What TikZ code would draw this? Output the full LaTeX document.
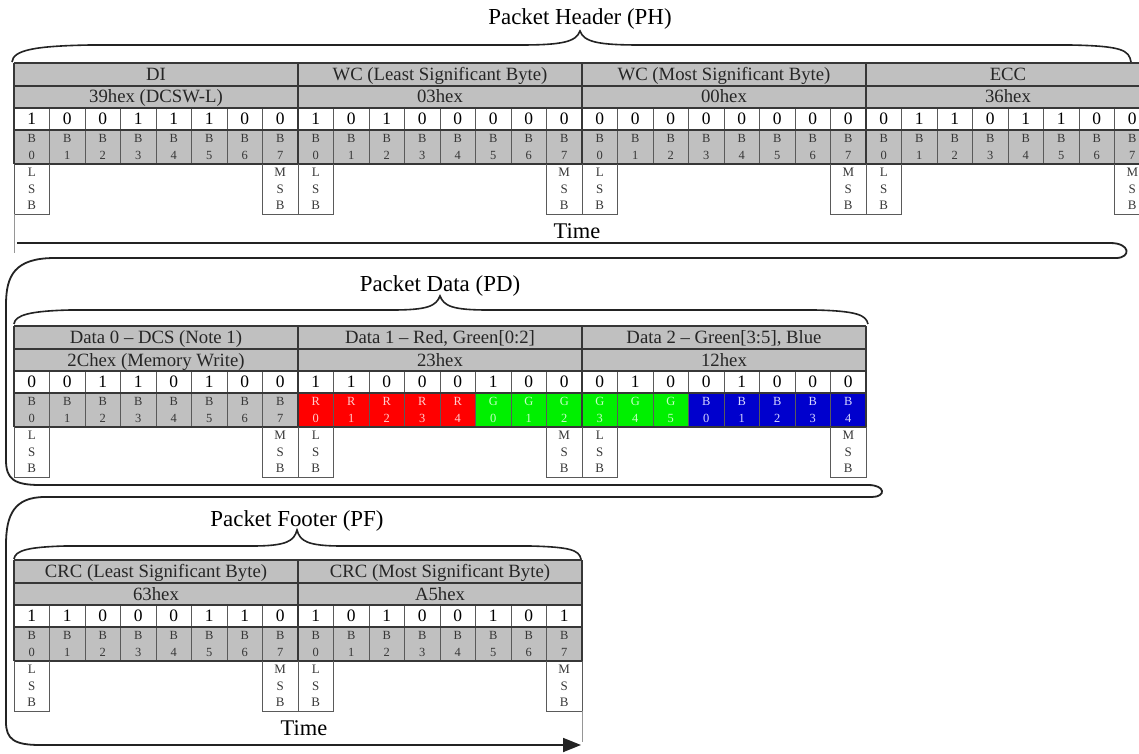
\documentclass[tikz,border=0pt]{standalone}
\usepackage{fontspec}
\setmainfont{Liberation Serif}
\usetikzlibrary{arrows.meta}
\definecolor{cellgray}{RGB}{192,192,192}
\definecolor{gridc}{RGB}{90,90,90}
\definecolor{rowc}{RGB}{55,55,55}
\definecolor{cred}{RGB}{255,0,0}
\definecolor{cgreen}{RGB}{0,240,0}
\definecolor{cblue}{RGB}{0,0,205}
\definecolor{flowc}{RGB}{35,35,35}
\definecolor{labc}{RGB}{55,55,55}
\definecolor{tr}{RGB}{255,205,205}
\definecolor{tg}{RGB}{200,255,200}
\definecolor{tb}{RGB}{215,215,255}
\definecolor{sidec}{RGB}{150,150,150}
\tikzset{
  grid line/.style={draw=gridc, line width=0.8bp},
  row line/.style={draw=rowc, line width=1.2bp},
  side line/.style={draw=sidec, line width=0.8bp},
  flowline/.style={draw=flowc, line width=1.8bp},
  bracel/.style={draw=flowc, line width=1.6bp},
  titletxt/.style={font=\fontsize{23}{26}\selectfont, inner sep=0pt, anchor=base},
  timetxt/.style={font=\fontsize{22.5}{24}\selectfont, inner sep=0pt, anchor=base},
  fieldtxt/.style={font=\fontsize{18.8}{20}\selectfont, inner sep=0pt, anchor=base, text=black!85},
  bittxt/.style={font=\fontsize{17.5}{19}\selectfont, inner sep=0pt},
  blbl/.style={font=\fontsize{12.5}{17}\selectfont, inner sep=0pt, align=center},
  sblbl/.style={font=\fontsize{13}{16.5}\selectfont, inner sep=0pt, align=center, text=labc},
}
\newcommand{\pktfill}[2]{%
  \fill[cellgray] (14,#1) rectangle ({14+#2*284},{#1+45});
  \fill[cellgray] (14,{#1+67}) rectangle ({14+#2*284},{#1+101});
}
\newcommand{\pktlines}[2]{%
  \pgfmathtruncatemacro{\pktnc}{8*#2-1}%
  \pgfmathtruncatemacro{\pktnb}{#2-1}%
  \foreach \j in {1,...,\pktnc}{\draw[grid line] ({14+\j*35.5},{#1+45}) -- ({14+\j*35.5},{#1+101});}
  \foreach \yy in {0,23,45,67,101}{\draw[row line] (14,{#1+\yy}) -- ({14+#2*284},{#1+\yy});}
  \foreach \k in {0,...,#2}{\draw[row line] ({14+\k*284},#1) -- ({14+\k*284},{#1+101});}
  \foreach \k in {0,...,\pktnb}{%
    \draw[grid line] ({14+\k*284},{#1+101}) -- ({14+\k*284},{#1+151}) -- ({49.5+\k*284},{#1+151}) -- ({49.5+\k*284},{#1+101});
    \draw[grid line] ({262.5+\k*284},{#1+101}) -- ({262.5+\k*284},{#1+151}) -- ({298+\k*284},{#1+151}) -- ({298+\k*284},{#1+101});
  }%
}
\newcommand{\pktsig}[3]{% #1 prefix, #2 top, #3 bytes
  \pgfmathtruncatemacro{\pktnb}{#3-1}%
  \foreach \k in {0,...,\pktnb}{%
    \node[sblbl] (#1-lsb-\k) at ({31.75+\k*284},{#2+126}) {L\\S\\B};
    \node[sblbl] (#1-msb-\k) at ({280.25+\k*284},{#2+126}) {M\\S\\B};
  }%
}
\begin{document}
\begin{tikzpicture}[x=1bp,y=-1bp]
\useasboundingbox (0,0) rectangle (1139,754);
\fill[white] (0,0) rectangle (1139,754);

% ================= Packet Header =================
\node[titletxt] (ph-title) at (580,25) {Packet Header (PH)};
\draw[bracel] (12,62) .. controls (13,50) and (35,46) .. (90,45) -- (520,45)
  .. controls (562,45) and (576,42) .. (580,31)
  .. controls (584,42) and (598,45) .. (640,45) -- (1070,45)
  .. controls (1122,46) and (1129,50) .. (1131,62);

\pktfill{63}{4}
\pktlines{63}{4}
\node[fieldtxt] (h-f0) at (156,80.5) {DI};
\node[fieldtxt] (h-f1) at (440,80.5) {WC (Least Significant Byte)};
\node[fieldtxt] (h-f2) at (724,80.5) {WC (Most Significant Byte)};
\node[fieldtxt] (h-f3) at (1008,80.5) {ECC};
\node[fieldtxt] (h-x0) at (156,103) {39hex (DCSW-L)};
\node[fieldtxt] (h-x1) at (440,103) {03hex};
\node[fieldtxt] (h-x2) at (724,103) {00hex};
\node[fieldtxt] (h-x3) at (1008,103) {36hex};
\foreach \v [count=\j from 0] in {1,0,0,1,1,1,0,0, 1,0,1,0,0,0,0,0, 0,0,0,0,0,0,0,0, 0,1,1,0,1,1,0,0}
  \node[bittxt] (h-bit-\j) at ({14+(\j+0.5)*35.5},119) {\v};
\foreach \j in {0,...,31}{
  \pgfmathtruncatemacro{\dd}{mod(\j,8)}
  \node[blbl, text=labc] (h-lb-\j) at ({14+(\j+0.5)*35.5},147) {B\\\dd};
}
\pktsig{h}{63}{4}
\node[timetxt] (h-time) at (577,238) {Time};
\draw[side line] (14,214) -- (14,253);

% ================= Packet Data =================
\node[titletxt] (pd-title) at (440,291) {Packet Data (PD)};
\draw[bracel] (14,324) .. controls (15,315) and (30,311) .. (70,310) -- (392,310)
  .. controls (428,310) and (436,306) .. (440,296)
  .. controls (444,306) and (452,310) .. (488,310) -- (815,310)
  .. controls (857,311) and (866,315) .. (868,324);

\pktfill{326}{3}
\fill[cred]   ({14+8*35.5},393) rectangle ({14+13*35.5},427);
\fill[cgreen] ({14+13*35.5},393) rectangle ({14+19*35.5},427);
\fill[cblue]  ({14+19*35.5},393) rectangle ({14+24*35.5},427);
\pktlines{326}{3}
\node[fieldtxt] (d-f0) at (156,343.5) {Data 0 – DCS (Note 1)};
\node[fieldtxt] (d-f1) at (440,343.5) {Data 1 – Red, Green[0:2]};
\node[fieldtxt] (d-f2) at (724,343.5) {Data 2 – Green[3:5], Blue};
\node[fieldtxt] (d-x0) at (156,366) {2Chex (Memory Write)};
\node[fieldtxt] (d-x1) at (440,366) {23hex};
\node[fieldtxt] (d-x2) at (724,366) {12hex};
\foreach \v [count=\j from 0] in {0,0,1,1,0,1,0,0, 1,1,0,0,0,1,0,0, 0,1,0,0,1,0,0,0}
  \node[bittxt] (d-bit-\j) at ({14+(\j+0.5)*35.5},382) {\v};
\foreach \l/\d/\c [count=\j from 0] in {B/0/labc,B/1/labc,B/2/labc,B/3/labc,B/4/labc,B/5/labc,B/6/labc,B/7/labc,
  R/0/tr,R/1/tr,R/2/tr,R/3/tr,R/4/tr,G/0/tg,G/1/tg,G/2/tg,
  G/3/tg,G/4/tg,G/5/tg,B/0/tb,B/1/tb,B/2/tb,B/3/tb,B/4/tb}
  \node[blbl, text=\c] (d-lb-\j) at ({14+(\j+0.5)*35.5},410) {\l\\\d};
\pktsig{d}{326}{3}

% ================= Packet Footer =================
\node[titletxt] (pf-title) at (297,526) {Packet Footer (PF)};
\draw[bracel] (14,559) .. controls (15,550) and (30,547) .. (65,546) -- (252,546)
  .. controls (287,546) and (294,541) .. (297,530)
  .. controls (300,541) and (307,546) .. (342,546) -- (530,546)
  .. controls (570,547) and (579,550) .. (581,559);

\pktfill{560}{2}
\pktlines{560}{2}
\node[fieldtxt] (f-f0) at (156,577.5) {CRC (Least Significant Byte)};
\node[fieldtxt] (f-f1) at (440,577.5) {CRC (Most Significant Byte)};
\node[fieldtxt] (f-x0) at (156,600) {63hex};
\node[fieldtxt] (f-x1) at (440,600) {A5hex};
\foreach \v [count=\j from 0] in {1,1,0,0,0,1,1,0, 1,0,1,0,0,1,0,1}
  \node[bittxt] (f-bit-\j) at ({14+(\j+0.5)*35.5},616) {\v};
\foreach \j in {0,...,15}{
  \pgfmathtruncatemacro{\dd}{mod(\j,8)}
  \node[blbl, text=labc] (f-lb-\j) at ({14+(\j+0.5)*35.5},644) {B\\\dd};
}
\pktsig{f}{560}{2}
\node[timetxt] (f-time) at (304,735) {Time};
\draw[side line] (582,711) -- (582,742);

% ================= Time flow =================
\coordinate (tstart) at (17,243);
\coordinate (tend) at (581,745);
\draw[flowline, -{Triangle[length=18bp,width=14bp]}] (tstart) -- (1110,243)
  .. controls (1131,243) and (1131,258) .. (1116,258) -- (55,258)
  .. controls (15,258) and (6,275) .. (6,305) -- (6,460)
  .. controls (6,479) and (14,485) .. (40,485) -- (868,485)
  .. controls (886,485) and (886,497) .. (872,497) -- (45,497)
  .. controls (14,497) and (6,515) .. (6,545) -- (6,722)
  .. controls (6,739) and (14,745) .. (40,745) -- (tend);
\end{tikzpicture}
\end{document}
